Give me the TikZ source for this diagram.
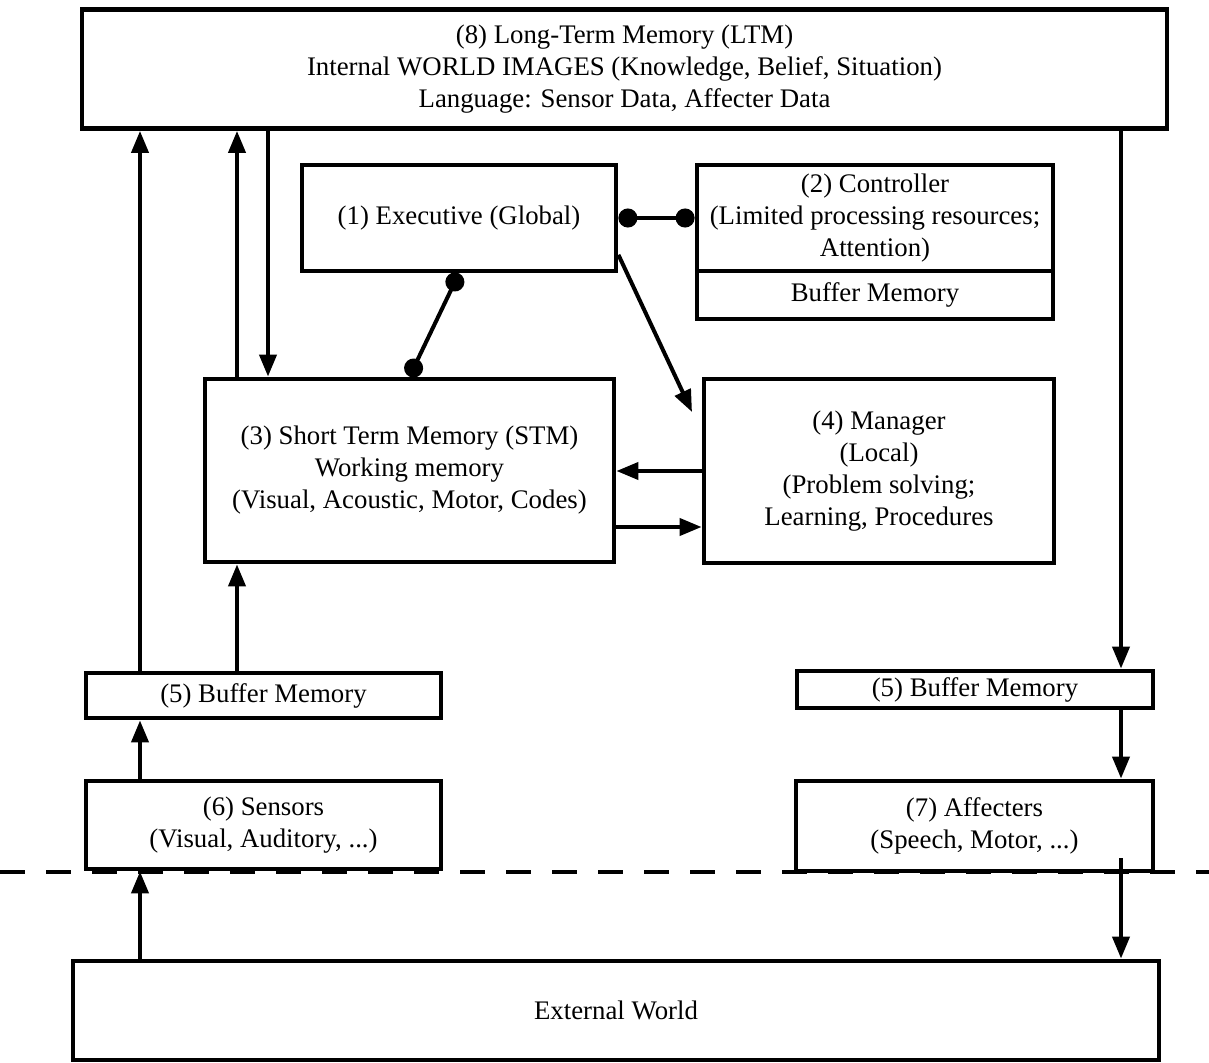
\documentclass[tikz,border=0pt]{standalone}
\usepackage{fontspec}
\setmainfont{Liberation Serif}
\usetikzlibrary{arrows.meta}

\begin{document}
\begin{tikzpicture}[x=0.5pt,y=-0.5pt,
    box/.style={draw,line width=2.4pt,inner sep=0pt,align=center,
                font=\fontsize{13.4}{16}\selectfont},
    arr/.style={-{Triangle[length=11pt,width=8.5pt]},line width=2pt},
    dotline/.style={{Circle[length=9.5pt]}-{Circle[length=9.5pt]},line width=2pt}
                   ]
    \useasboundingbox (0,0) rectangle (1209,1063);

    % boxes
    \node[box,minimum width=542.5pt,minimum height=59.5pt](ltm) at (624.5,69)
        {(8) Long-Term Memory (LTM)\\
         Internal WORLD IMAGES (Knowledge, Belief, Situation)\\
         Language: Sensor Data, Affecter Data};
    \node[box,minimum width=157pt,minimum height=53pt](exe) at (459,218)
        {(1) Executive (Global)};
    \node[box,minimum width=178pt,minimum height=53pt](ctrl) at (875,218)
        {(2) Controller\\
         (Limited processing resources;\\
         Attention)};
    \node[box,minimum width=178pt,minimum height=24pt](cbuf) at (875,295)
        {Buffer Memory};
    \node[box,minimum width=204.5pt,minimum height=91.5pt](stm) at (409.5,470.5)
        {(3) Short Term Memory (STM)\\
         Working memory\\
         (Visual, Acoustic, Motor, Codes)};
    \node[box,minimum width=175pt,minimum height=92pt](mgr) at (879,471)
        {(4) Manager\\
         (Local)\\
         (Problem solving;\\
         Learning, Procedures};
    \node[box,minimum width=177.5pt,minimum height=22.5pt](bufl) at (263.5,695.5)
        {(5) Buffer Memory};
    \node[box,minimum width=178pt,minimum height=18.5pt](bufr) at (975,689.5)
        {(5) Buffer Memory};
    \node[box,minimum width=177.5pt,minimum height=44pt](sens) at (263.5,825)
        {(6) Sensors\\
         (Visual, Auditory, ...)};
    \node[box,minimum width=178.5pt,minimum height=45pt](aff) at (974.5,826)
        {(7) Affecters\\
         (Speech, Motor, ...)};
    \node[box,minimum width=543pt,minimum height=49.5pt](ext) at (616,1010.5)
        {External World};

    % helper coordinates
    \coordinate (cl) at (140,0);
    \coordinate (cs) at (237,0);
    \coordinate (cd) at (268,0);
    \coordinate (cr) at (1121,0);
    \coordinate (lo) at (0,527);
    \coordinate (mgrin) at (692,412);
    \coordinate (affout) at (1121,858);
    \coordinate (dl) at (0,872);
    \coordinate (dr) at (1209,872);

    % separator
    \draw[line width=1.8pt,dash pattern=on 12.5pt off 10.5pt] (dl) -- (dr);

    % connectors
    \draw[arr] (cl |- bufl.north) -- (cl |- ltm.south);
    \draw[arr] (cs |- stm.north) -- (cs |- ltm.south);
    \draw[arr] (cd |- ltm.south) -- (cd |- stm.north);
    \draw[arr] (cs |- bufl.north) -- (cs |- stm.south);
    \draw[arr] (cl |- sens.north) -- (cl |- bufl.south);
    \draw[arr] (cl |- ext.north) -- (cl |- sens.south);
    \draw[arr] (cr |- ltm.south) -- (cr |- bufr.north);
    \draw[arr] (cr |- bufr.south) -- (cr |- aff.north);
    \draw[arr] (affout) -- (cr |- ext.north);
    \draw[dotline] (exe.east) -- (ctrl.west);
    \draw[dotline] (exe.south) -- (stm.north);
    \draw[arr] (exe.-13) -- (mgrin);
    \draw[arr] (mgr.west) -- (stm.east |- mgr.west);
    \draw[arr] (stm.east |- lo) -- (mgr.west |- lo);

\end{tikzpicture}
\end{document}
